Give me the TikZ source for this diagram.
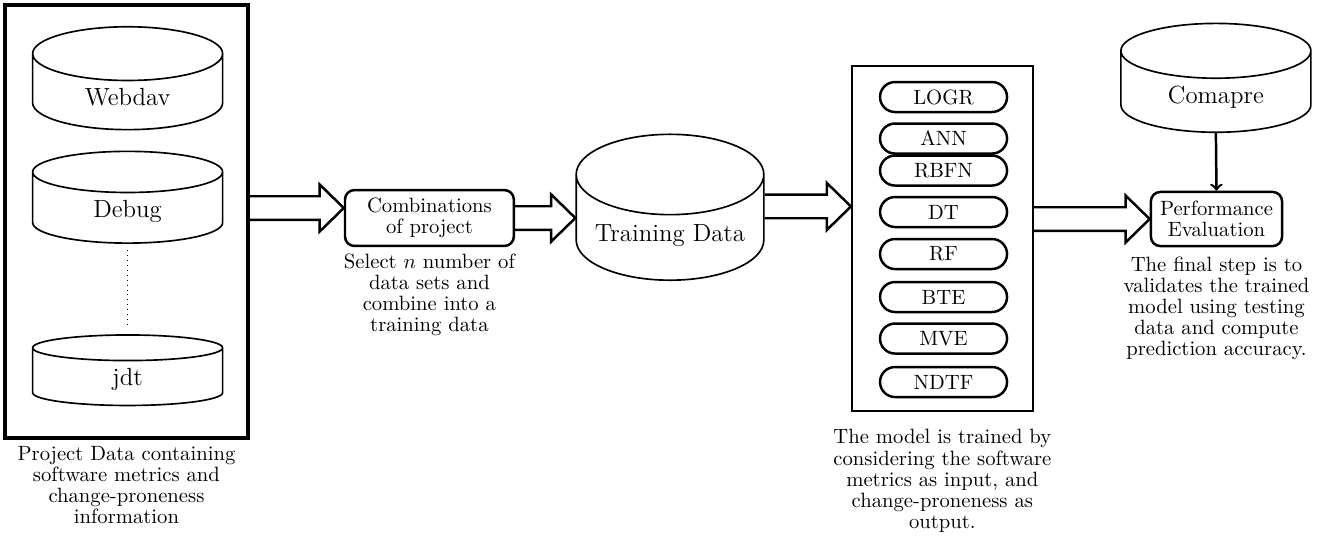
\documentclass[tikz,border=0pt]{standalone}
\usetikzlibrary{positioning,shapes.geometric,shapes.misc,calc}

\tikzset{
  dbase/.style={cylinder, shape border rotate=90, draw, thick, fill=white,
    minimum width=3.23cm, font=\large},
  stagebox/.style={draw, very thick, rounded corners=1.6mm, align=center,
    minimum width=2.87cm, minimum height=0.95cm, inner sep=2pt,
    font=\fontsize{10}{10.2}\selectfont},
  algo/.style={rounded rectangle, draw, very thick, minimum width=2.23cm,
    minimum height=0.51cm, inner sep=1pt},
  note/.style={align=center, inner sep=0pt, font=\fontsize{10}{10.2}\selectfont},
  bigarrow/.style={draw, very thick, to path={let \p1=(\tikztostart), \p2=(\tikztotarget) in
    (\x1,\y2+2mm) -- (\x2-4.1mm,\y2+2mm) -- (\x2-4.1mm,\y2+4mm) -- (\x2,\y2)
    -- (\x2-4.1mm,\y2-4mm) -- (\x2-4.1mm,\y2-2mm) -- (\x1,\y2-2mm)}}
}

\begin{document}
\begin{tikzpicture}
    \useasboundingbox (0,0) rectangle (22.525,-9.316);

    % project data
    \node[draw, line width=1.6pt, minimum width=4.13cm, minimum height=7.36cm] (proj) at (2.15,-3.766) {};
    \node[dbase, minimum height=1.65cm, aspect=0.54] (webdav) at (2.17,-1.65) {Webdav};
    \node[dbase, minimum height=1.56cm, aspect=0.5] (debug) at (2.17,-3.60) {Debug};
    \node[dbase, minimum height=1.1cm, aspect=0.58] (jdt) at (2.17,-6.45) {jdt};
    \draw[dotted, shorten >=1mm, shorten <=1mm] (debug.bottom) -- (jdt.top);
    \node[note, below=1mm of proj] (projnote) {Project Data containing\\software metrics and\\change-proneness\\information};

    % combinations
    \node[stagebox] (comb) at (7.30,-3.706) {Combinations\\of project};
    \node[note, below=1mm of comb] (combnote) {Select $n$ number of\\data sets and\\combine into a\\training data};

    % training data
    \node[dbase, minimum width=3.19cm, minimum height=2.48cm, aspect=0.49] (train) at (11.39,-4.0) {Training Data};

    % models
    \node[draw, thick, minimum width=3.08cm, minimum height=5.865cm] (model) at (16.02,-4.05) {};
    \foreach \name/\y in {LOGR/-1.649, ANN/-2.355, RBFN/-2.899, DT/-3.604, RF/-4.318, BTE/-5.049, MVE/-5.755, NDTF/-6.494}
        \node[algo] (\name) at (16.04,\y) {\name};
    \node[note, below=3mm of model] (modelnote) {The model is trained by\\considering the software\\metrics as input, and\\change-proneness as\\output.};

    % evaluation
    \node[dbase, minimum height=1.8cm, aspect=0.5] (comp) at (20.67,-1.65) {Comapre};
    \node[stagebox, minimum width=2.23cm, minimum height=0.92cm] (perf) at (20.68,-3.723) {Performance\\Evaluation};
    \node[note, below=1.5mm of perf] (perfnote) {The final step is to\\validates the trained\\model using testing\\data and compute\\prediction accuracy.};

    % connectors
    \draw[bigarrow] (proj.east) to ([yshift=1.7mm]comb.west);
    \draw[bigarrow] (comb.east) to (comb.east -| train.west);
    \draw[bigarrow] (train.east) to ([yshift=5.4mm]model.west);
    \draw[bigarrow] (model.east) to (perf.west);
    \draw[very thick, ->] (comp.bottom) -- (perf.north);
\end{tikzpicture}
\end{document}
